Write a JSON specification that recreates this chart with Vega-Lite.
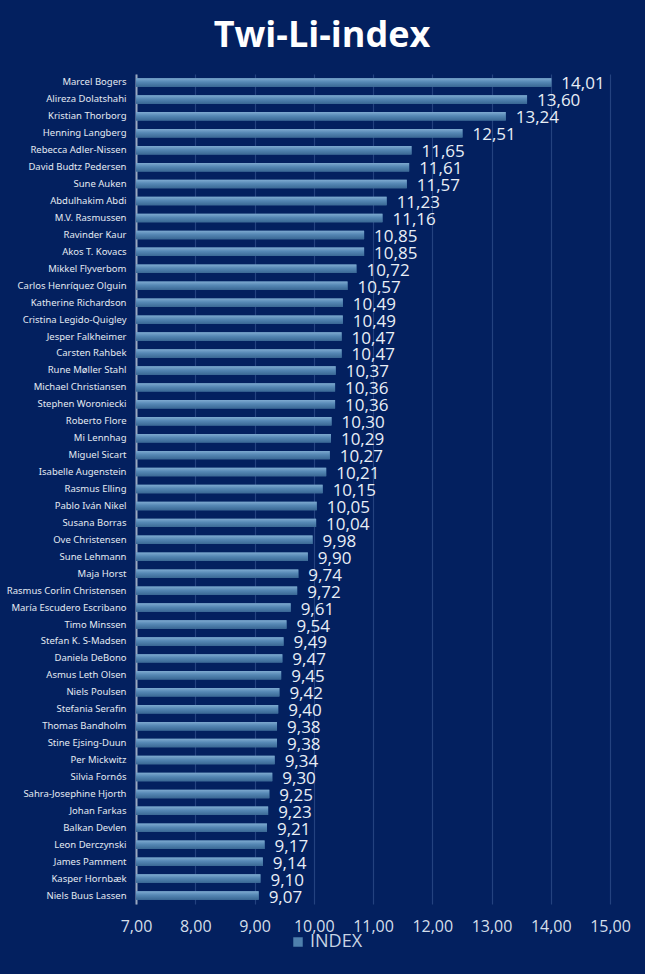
{
  "$schema": "https://vega.github.io/schema/vega-lite/v6.json",
  "width": 474,
  "height": 830,
  "autosize": {"type": "none"},
  "padding": {"left": 136, "top": 74, "right": 35, "bottom": 70},
  "background": "#03205f",
  "title": {
    "text": "Twi-Li-index",
    "font": "Open Sans",
    "fontSize": 36,
    "fontWeight": "bold",
    "color": "#ffffff",
    "anchor": "middle",
    "dx": -51,
    "offset": 19
  },
  "data": {
    "values": [
      {"name": "Marcel Bogers", "index": 14.01},
      {"name": "Alireza Dolatshahi", "index": 13.60},
      {"name": "Kristian Thorborg", "index": 13.24},
      {"name": "Henning Langberg", "index": 12.51},
      {"name": "Rebecca Adler-Nissen", "index": 11.65},
      {"name": "David Budtz Pedersen", "index": 11.61},
      {"name": "Sune Auken", "index": 11.57},
      {"name": "Abdulhakim Abdi", "index": 11.23},
      {"name": "M.V. Rasmussen", "index": 11.16},
      {"name": "Ravinder Kaur", "index": 10.85},
      {"name": "Akos T. Kovacs", "index": 10.85},
      {"name": "Mikkel Flyverbom", "index": 10.72},
      {"name": "Carlos Henríquez Olguin", "index": 10.57},
      {"name": "Katherine Richardson", "index": 10.49},
      {"name": "Cristina Legido-Quigley", "index": 10.49},
      {"name": "Jesper Falkheimer", "index": 10.47},
      {"name": "Carsten Rahbek", "index": 10.47},
      {"name": "Rune Møller Stahl", "index": 10.37},
      {"name": "Michael Christiansen", "index": 10.36},
      {"name": "Stephen Woroniecki", "index": 10.36},
      {"name": "Roberto Flore", "index": 10.30},
      {"name": "Mi Lennhag", "index": 10.29},
      {"name": "Miguel Sicart", "index": 10.27},
      {"name": "Isabelle Augenstein", "index": 10.21},
      {"name": "Rasmus Elling", "index": 10.15},
      {"name": "Pablo Iván Nikel", "index": 10.05},
      {"name": "Susana Borras", "index": 10.04},
      {"name": "Ove Christensen", "index": 9.98},
      {"name": "Sune Lehmann", "index": 9.90},
      {"name": "Maja Horst", "index": 9.74},
      {"name": "Rasmus Corlin Christensen", "index": 9.72},
      {"name": "María Escudero Escribano", "index": 9.61},
      {"name": "Timo Minssen", "index": 9.54},
      {"name": "Stefan K. S-Madsen", "index": 9.49},
      {"name": "Daniela DeBono", "index": 9.47},
      {"name": "Asmus Leth Olsen", "index": 9.45},
      {"name": "Niels Poulsen", "index": 9.42},
      {"name": "Stefania Serafin", "index": 9.40},
      {"name": "Thomas Bandholm", "index": 9.38},
      {"name": "Stine Ejsing-Duun", "index": 9.38},
      {"name": "Per Mickwitz", "index": 9.34},
      {"name": "Silvia Fornós", "index": 9.30},
      {"name": "Sahra-Josephine Hjorth", "index": 9.25},
      {"name": "Johan Farkas", "index": 9.23},
      {"name": "Balkan Devlen", "index": 9.21},
      {"name": "Leon Derczynski", "index": 9.17},
      {"name": "James Pamment", "index": 9.14},
      {"name": "Kasper Hornbæk", "index": 9.10},
      {"name": "Niels Buus Lassen", "index": 9.07}
    ]
  },
  "encoding": {
    "y": {
      "field": "name",
      "type": "nominal",
      "sort": null,
      "scale": {"paddingInner": 0.5, "paddingOuter": 0.25},
      "axis": {
        "title": null,
        "labelFont": "Noto Sans",
        "labelFontSize": 9.5,
        "labelColor": "#e4eaf2",
        "labelPadding": 10,
        "ticks": false,
        "domain": true,
        "domainColor": "#9aa8c0",
        "domainWidth": 2,
        "grid": false
      }
    },
    "x": {
      "field": "index",
      "type": "quantitative",
      "scale": {"domain": [7, 15], "zero": false, "nice": false},
      "axis": {
        "title": null,
        "values": [7, 8, 9, 10, 11, 12, 13, 14, 15],
        "format": ".2f",
        "labelOverlap": false,
        "labelFlush": false,
        "labelFont": "Open Sans",
        "labelFontSize": 16,
        "labelColor": "#d4deea",
        "labelPadding": 14,
        "ticks": false,
        "domain": false,
        "grid": true,
        "gridColor": "#24427f",
        "gridWidth": 1.2
      }
    }
  },
  "layer": [
    {
      "mark": {"type": "bar"},
      "encoding": {
        "x2": {"datum": 7},
        "color": {
          "datum": "INDEX",
          "type": "nominal",
          "scale": {"range": ["#4f80ad"]},
          "legend": {
            "title": null,
            "orient": "none",
            "legendX": 153,
            "legendY": 859,
            "symbolType": "square",
            "symbolSize": 90,
            "symbolStrokeWidth": 0,
            "labelFont": "Open Sans",
            "labelFontSize": 18,
            "labelColor": "#c8d4e4",
            "labelOffset": 3
          }
        }
      }
    },
    {
      "mark": {
        "type": "bar",
        "color": {
          "gradient": "linear",
          "x1": 0, "y1": 0, "x2": 0, "y2": 1,
          "stops": [
            {"offset": 0, "color": "#7eaad0"},
            {"offset": 0.45, "color": "#5587b4"},
            {"offset": 1, "color": "#3a6894"}
          ]
        }
      },
      "encoding": {"x2": {"datum": 7}}
    },
    {
      "mark": {
        "type": "text",
        "align": "left",
        "baseline": "middle",
        "dx": 10,
        "dy": 2,
        "font": "Open Sans",
        "fontSize": 17,
        "color": "#e8eef6"
      },
      "encoding": {
        "text": {"field": "index", "type": "quantitative", "format": ".2f"}
      }
    }
  ],
  "config": {
    "view": {"stroke": null},
    "locale": {
      "number": {"decimal": ",", "thousands": ".", "grouping": [3], "currency": ["", " €"]}
    }
  }
}
